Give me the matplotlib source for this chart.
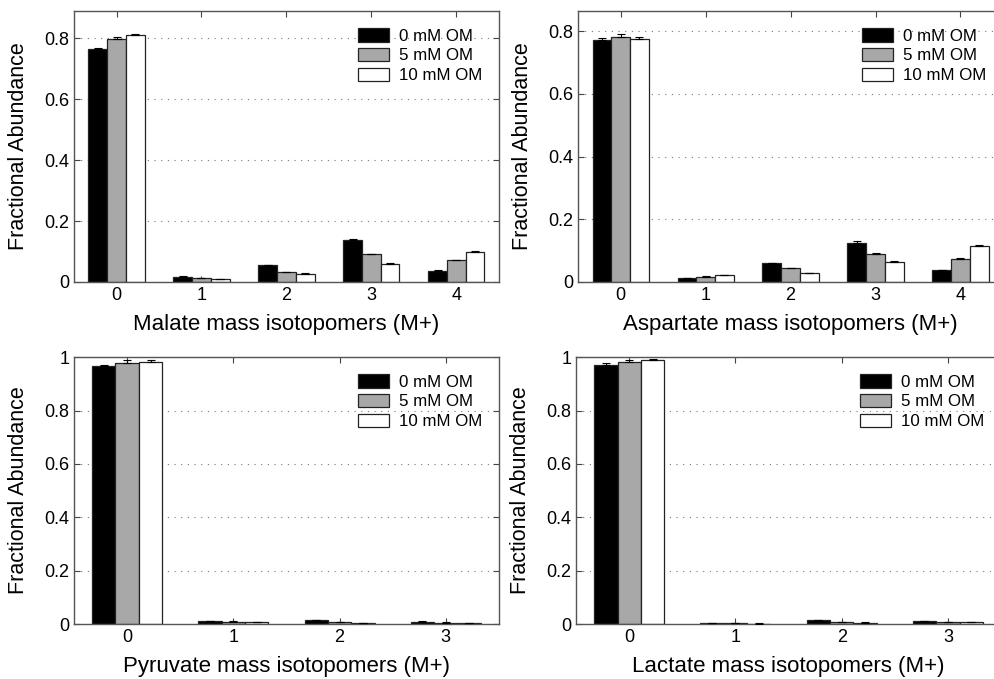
import numpy as np
import matplotlib.pyplot as plt

plt.rcParams['font.family'] = ['Liberation Sans', 'DejaVu Sans']

conds = ['0 mM OM', '5 mM OM', '10 mM OM']
colors = ['black', '#a8a8a8', 'white']

# Malate M+0..M+4 (rows: 0, 5, 10 mM OM)
malate = [[0.764, 0.017, 0.055, 0.138, 0.036],
          [0.799, 0.012, 0.032, 0.091, 0.071],
          [0.810, 0.009, 0.026, 0.060, 0.100]]
malate_err = [[0.006, 0.002, 0.002, 0.004, 0.002],
              [0.006, 0.001, 0.002, 0.002, 0.002],
              [0.006, 0.001, 0.002, 0.002, 0.002]]

aspartate = [[0.771, 0.012, 0.060, 0.125, 0.037],
             [0.782, 0.016, 0.044, 0.089, 0.074],
             [0.775, 0.021, 0.028, 0.064, 0.115]]
aspartate_err = [[0.006, 0.001, 0.002, 0.005, 0.002],
                 [0.008, 0.002, 0.002, 0.002, 0.002],
                 [0.006, 0.002, 0.002, 0.002, 0.004]]

pyruvate = [[0.965, 0.010, 0.014, 0.009],
            [0.977, 0.009, 0.007, 0.005],
            [0.983, 0.008, 0.003, 0.004]]
pyruvate_err = [[0.006, 0.001, 0.002, 0.002],
                [0.012, 0.001, 0.001, 0.001],
                [0.008, 0.001, 0.001, 0.001]]

lactate = [[0.972, 0.002, 0.014, 0.010],
           [0.980, 0.002, 0.008, 0.007],
           [0.988, 0.001, 0.005, 0.006]]
lactate_err = [[0.005, 0.001, 0.002, 0.001],
               [0.010, 0.001, 0.001, 0.001],
               [0.006, 0.001, 0.001, 0.001]]

panels = [
    (malate, malate_err, 'Malate mass isotopomers (M+)', 0.89,
     [0.0744, 0.5847, 0.427, 0.399]),
    (aspartate, aspartate_err, 'Aspartate mass isotopomers (M+)', 0.864,
     [0.581, 0.5847, 0.427, 0.399]),
    (pyruvate, pyruvate_err, 'Pyruvate mass isotopomers (M+)', 1.0,
     [0.0744, 0.081, 0.427, 0.393]),
    (lactate, lactate_err, 'Lactate mass isotopomers (M+)', 1.0,
     [0.579, 0.081, 0.427, 0.393]),
]

fig = plt.figure(figsize=(9.95, 6.79), dpi=100)
w = 0.22
for vals, errs, xlab, ytop, pos in panels:
    ax = fig.add_axes(pos)
    n = len(vals[0])
    x = np.arange(n)
    for i in range(3):
        ax.bar(x + (i - 1) * w, vals[i], w, color=colors[i], edgecolor='#222222',
               linewidth=0.9, label=conds[i], zorder=2)
        ax.errorbar(x + (i - 1) * w, vals[i], yerr=[np.zeros(n), errs[i]],
                    fmt='none', ecolor='black', elinewidth=0.8, capsize=3,
                    capthick=0.8, zorder=3)
    ax.set_xlim(-0.5, n - 0.5)
    ax.set_ylim(0, ytop)
    ax.set_xticks(x)
    ax.set_yticks(np.arange(0, ytop + 0.001, 0.2))
    if ytop == 1.0:
        ax.set_yticklabels(['0', '0.2', '0.4', '0.6', '0.8', '1'])
    else:
        ax.set_yticklabels(['0', '0.2', '0.4', '0.6', '0.8'])
    ax.yaxis.grid(True, linestyle=(0, (1, 5)), color='#777777', linewidth=0.8, zorder=0)
    ax.set_axisbelow(True)
    ax.tick_params(direction='in', top=True, right=True, labelsize=13, length=4,
                   color='#444444')
    for s in ax.spines.values():
        s.set_color('#555555')
        s.set_linewidth(1.0)
    ax.set_xlabel(xlab, fontsize=16, labelpad=7)
    ax.set_ylabel('Fractional Abundance', fontsize=15.5)
    ax.yaxis.set_label_coords(-0.105, 0.5)
    ax.legend(loc='upper right', bbox_to_anchor=(0.985, 0.975), frameon=False,
              fontsize=12.2, handlelength=1.85, handleheight=0.85,
              handletextpad=0.6, labelspacing=0.25, borderaxespad=0.2)

fig.savefig('out.png', dpi=100)
